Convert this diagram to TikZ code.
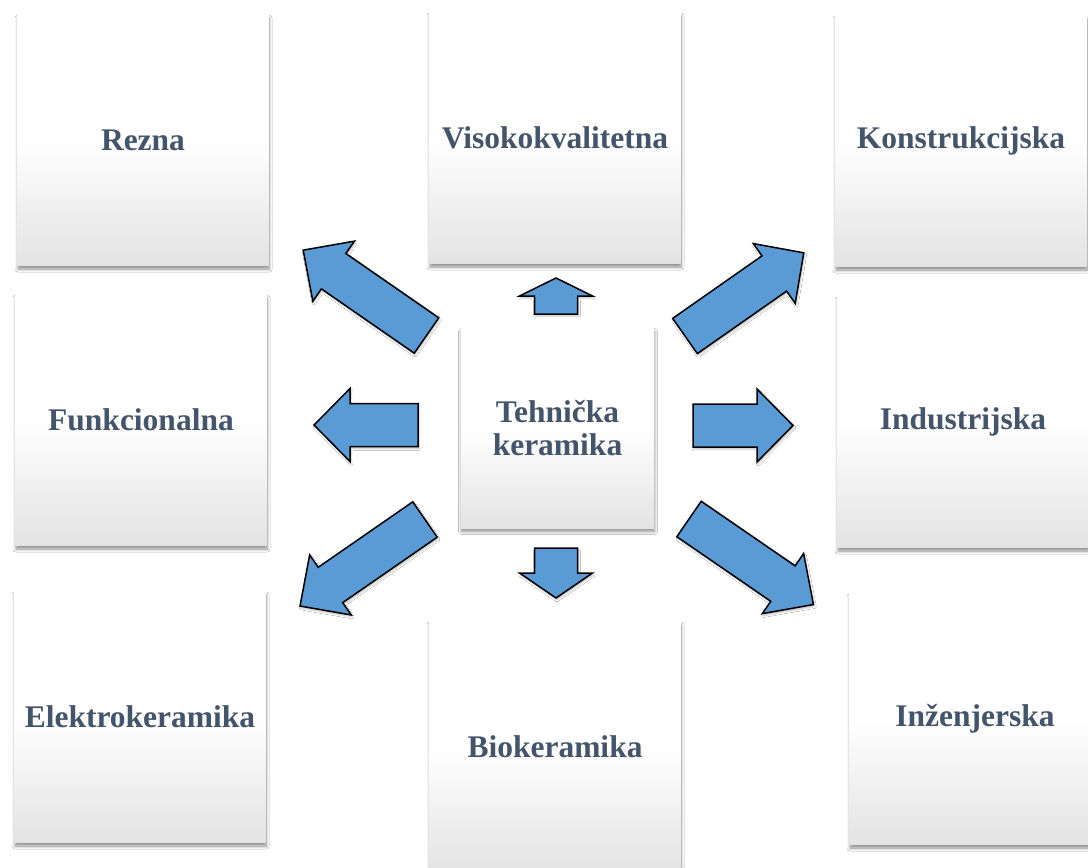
\documentclass[tikz,border=0pt]{standalone}
\usepackage{fontspec}
\setmainfont{Liberation Serif}
\usetikzlibrary{shadows.blur}
\definecolor{labelgray}{HTML}{44546A}
\definecolor{arrowblue}{HTML}{5B9BD5}
\tikzset{
  card/.style={rectangle, inner sep=0pt, align=center, text=labelgray,
    font=\bfseries\fontsize{31.5}{33}\selectfont,
    top color=white, bottom color=black!11, middle color=white,
    blur shadow={shadow xshift=0.5pt, shadow yshift=-3.5pt, shadow blur radius=3pt, shadow blur steps=10, shadow opacity=45}},
  bigarrow/.style={fill=arrowblue, draw=black, line width=1.5pt, line join=miter,
    blur shadow={shadow xshift=1pt, shadow yshift=-2pt, shadow blur steps=4, shadow opacity=25}}
}
% block arrow: tail, angle, length, head length
\newcommand{\blockarrow}[4]{%
  \draw[bigarrow, shift={#1}, rotate=#2] (0,-21.5) -- (#3-#4,-21.5) -- (#3-#4,-36.5) -- (#3,0)
    -- (#3-#4,36.5) -- (#3-#4,21.5) -- (0,21.5) -- cycle;}
\begin{document}
\begin{tikzpicture}[x=1pt, y=-1pt]
        \fill[white] (0,0) rectangle (1088,868);
        \useasboundingbox (0,0) rectangle (1088,868);
        \clip (0,0) rectangle (1088,868);
        % Outer boxes
        \foreach \n/\x/\y/\t in {rezna/143/140/Rezna, visoko/555/138/Visokokvalitetna, konstr/961/141/Konstrukcijska, funkc/141/420/Funkcionalna, indus/963/422/Industrijska, elektro/140/717/Elektrokeramika, bio/555/747/Biokeramika, inzenj/975/719/Inženjerska} \node [card, minimum width=251pt, minimum height=251pt] (\n) at (\x,\y) {\t};
        % Centre box
        \node [card, minimum width=193pt, minimum height=200pt] (tehnicka) at (557.5,428) {Tehnička\\keramika};
        % Arrows out of the centre
        \foreach \x/\y/\a/\l/\h in {556/314/90/36/18, 556/548/-90/50/25, 693/425.5/0/100/36, 418/425/180/104/36, 426.5/335.5/145.3/150/37, 685/336/35/145/36, 689/519/-34.5/151/37, 425/519.5/214.7/152/37} \blockarrow{(\x,\y)}{\a}{\l}{\h};
    \end{tikzpicture}
\end{document}
